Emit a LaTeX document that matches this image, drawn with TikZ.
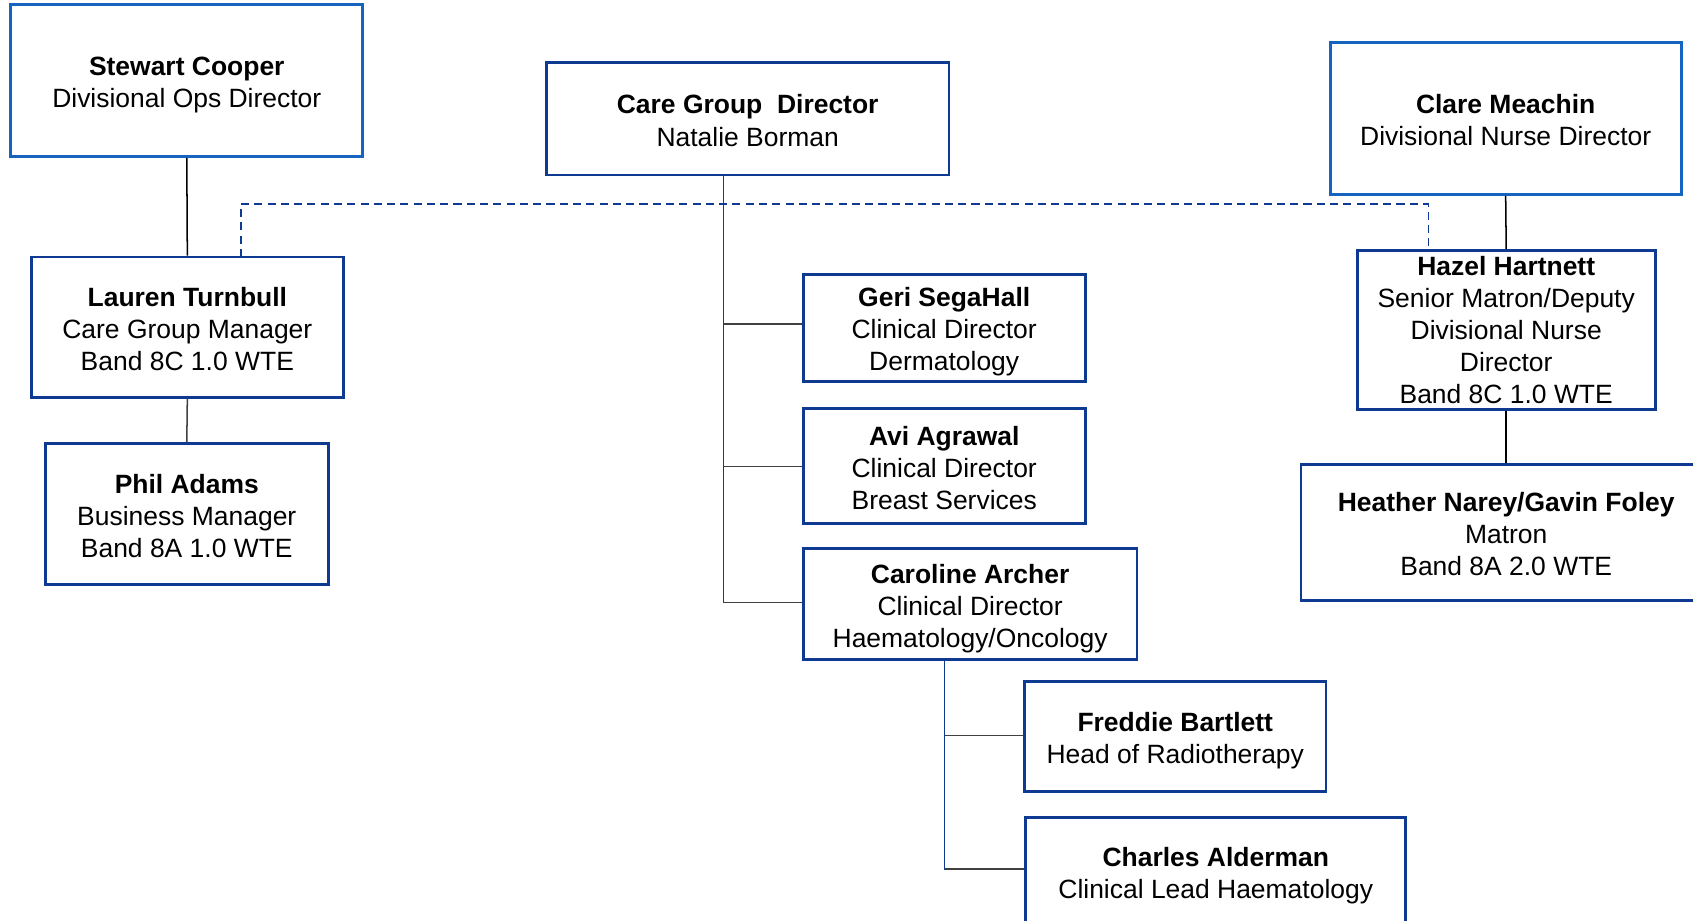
\documentclass[tikz,border=0pt]{standalone}
\usepackage{fontspec}
\setmainfont{Liberation Sans}
\definecolor{lightblue}{RGB}{21,101,192}
\definecolor{navy}{RGB}{14,58,145}
\definecolor{linegray}{RGB}{64,64,64}
\newcommand\mytstrut{\rule{0pt}{26pt}}
\newcommand\mybstrut{\rule[-5.2pt]{0pt}{5.2pt}}
\newcommand\nm[1]{\mytstrut\textbf{#1}}
\tikzset{
  box/.style={draw=navy, line width=2.6pt, fill=white, inner sep=0pt, align=center,
    font=\fontsize{24.5}{29.7}\selectfont, execute at end node=\mybstrut},
  topbox/.style={box, draw=lightblue},
  conn/.style={line width=1.4pt, draw=black},
  grayconn/.style={line width=1.4pt, draw=linegray},
  navyconn/.style={line width=1.3pt, draw=navy},
  dashconn/.style={line width=1.8pt, draw=navy, dash pattern=on 7.5pt off 4.8pt},
}
\begin{document}
\begin{tikzpicture}[x=1pt,y=-1pt]
\clip (0,0) rectangle (1568,853);
\fill[white] (0,0) rectangle (1568,853);
% connector coordinates
\coordinate (cgdv) at (670,162);
\coordinate (b1) at (670,300);
\coordinate (b2) at (670,432);
\coordinate (b3) at (670,558);
\coordinate (cav) at (875,611);
\coordinate (c1) at (875,681);
\coordinate (c2) at (875,805);
\coordinate (c2end) at (875,806);
\coordinate (d1) at (223,238);
\coordinate (d2) at (223,189);
\coordinate (d3) at (1323,189);
\coordinate (d4) at (1323,232);
% connectors
\draw[dashconn] (d1) -- (d2) -- (d3) -- (d4);
\draw[navyconn] (cgdv) -- (b3);
\draw[navyconn] (cav) -- (c2end);
% nodes
\node[topbox, minimum width=326pt, minimum height=141pt] (sc) at (173,74.5)
  {\nm{Stewart Cooper}\\Divisional Ops Director};
\node[box, minimum width=373pt, minimum height=104pt] (cgd) at (692.5,110)
  {\nm{Care Group\ \ Director}\\Natalie Borman};
\node[topbox, minimum width=325pt, minimum height=141pt] (cm) at (1394.5,109.5)
  {\nm{Clare Meachin}\\Divisional Nurse Director};
\node[box, minimum width=289pt, minimum height=130pt] (lt) at (173.5,303)
  {\nm{Lauren Turnbull}\\Care Group Manager\\Band 8C 1.0 WTE};
\node[box, minimum width=262pt, minimum height=130pt] (pa) at (173,476)
  {\nm{Phil Adams}\\Business Manager\\Band 8A 1.0 WTE};
\node[box, minimum width=261pt, minimum height=99pt] (gs) at (874.5,303.5)
  {\nm{Geri SegaHall}\\Clinical Director\\Dermatology};
\node[box, minimum width=261pt, minimum height=107pt] (aa) at (874.5,431.5)
  {\nm{Avi Agrawal}\\Clinical Director\\Breast Services};
\node[box, minimum width=309pt, minimum height=103pt] (ca) at (898.5,559.5)
  {\nm{Caroline Archer}\\Clinical Director\\Haematology/Oncology};
\node[box, minimum width=279pt, minimum height=102pt] (fb) at (1088.5,682)
  {\nm{Freddie Bartlett}\\Head of Radiotherapy};
\node[box, minimum width=352pt, minimum height=100pt] (cha) at (1126,807)
  {\nm{Charles Alderman}\\Clinical Lead Haematology};
\node[box, minimum width=276pt, minimum height=147pt] (hh) at (1395,305.5)
  {\rule{0pt}{22.8pt}\textbf{Hazel Hartnett}\\Senior Matron/Deputy\\Divisional Nurse\\Director\\Band 8C 1.0 WTE};
\node[box, minimum width=380pt, minimum height=126pt] (hn) at (1395,493)
  {\nm{Heather Narey/Gavin Foley}\\Matron\\Band 8A 2.0 WTE};
% tree connectors
\draw[conn] (sc.south) -- (lt.north);
\draw[grayconn] (lt.south) -- (pa.north);
\draw[conn] (cm.south) -- (hh.north);
\draw[conn] (hh.south) -- (hn.north);
\draw[grayconn] (b1) -- (gs.west |- b1);
\draw[grayconn] (b2) -- (aa.west |- b2);
\draw[grayconn] (b3) -- (ca.west |- b3);
\draw[grayconn] (c1) -- (fb.west |- c1);
\draw[grayconn] (c2) -- (cha.west |- c2);
\end{tikzpicture}
\end{document}
